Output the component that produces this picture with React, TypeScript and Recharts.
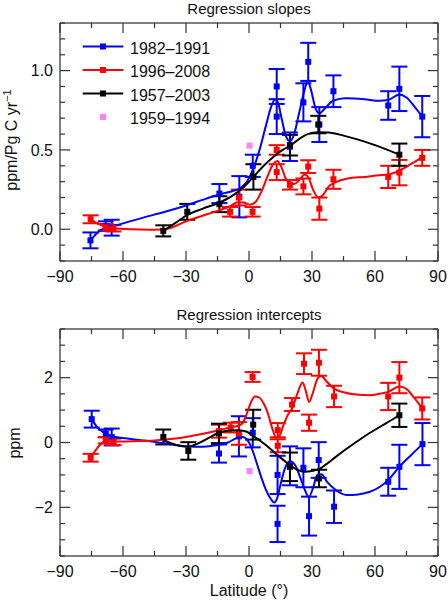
import { ComposedChart, Scatter, ErrorBar, XAxis, YAxis, Legend, Label } from 'recharts'

const FONT = '"Liberation Sans", Arial, Helvetica, sans-serif'
const BLUE = '#0000ff'
const RED = '#ff0000'
const BLACK = '#000000'
const PINK = '#ff80ff'
const FRAME = '#555555'
const TICK = '#333333'

// axes
const latTicks = [-90, -75, -60, -45, -30, -15, 0, 15, 30, 45, 60, 75, 90]
const latLabels = [-90, -60, -30, 0, 30, 60, 90]
const slopeTicks = [-0.2, -0.1, 0, 0.1, 0.2, 0.3, 0.4, 0.5, 0.6, 0.7, 0.8, 0.9, 1, 1.1, 1.2, 1.3]
const slopeLabels = [0, 0.5, 1]
const interceptTicks = [-3.5, -3, -2.5, -2, -1.5, -1, -0.5, 0, 0.5, 1, 1.5, 2, 2.5, 3, 3.5]
const interceptLabels = [-2, 0, 2]

// points: [latitude, value, error]
const slopeBlue = [
  [-75.5, -0.07, 0.05], [-68.2, 0.02, 0.03], [-65.4, 0.01, 0.05], [-14.1, 0.225, 0.06],
  [-4.6, 0.205, 0.13], [1.8, 0.4, 0.07], [13.2, 0.9, 0.11], [13.2, 0.71, 0.11],
  [19.5, 0.52, 0.09], [25.9, 0.8, 0.12], [28.2, 1.055, 0.12], [33.5, 0.66, 0.11],
  [40.2, 0.87, 0.1], [66.3, 0.78, 0.09], [71.6, 0.885, 0.14], [82.5, 0.71, 0.13],
]
const slopeRed = [
  [-75.4, 0.063, 0.025], [-68.2, 0.013, 0.02], [-64.6, 0.006, 0.02], [-9.0, 0.11, 0.03],
  [-4.8, 0.2, 0.05], [1.7, 0.11, 0.03], [13.2, 0.5, 0.03], [13.2, 0.36, 0.05],
  [19.5, 0.28, 0.03], [25.9, 0.27, 0.05], [28.2, 0.395, 0.04], [33.5, 0.13, 0.07],
  [40.2, 0.315, 0.06], [66.3, 0.33, 0.07], [71.6, 0.357, 0.08], [82.5, 0.45, 0.05],
]
const slopeBlack = [
  [-40.8, -0.01, 0.035], [-29.4, 0.11, 0.05], [-14.1, 0.158, 0.05], [2.1, 0.33, 0.08],
  [19.5, 0.53, 0.065], [33.0, 0.66, 0.055], [71.6, 0.47, 0.07],
]
const slopePink = [[0.3, 0.527, 0]]

const interceptBlue = [
  [-74.9, 0.72, 0.26], [-68.2, 0.28, 0.12], [-65.4, 0.17, 0.26], [-14.3, -0.34, 0.28],
  [-4.8, 0.19, 0.62], [1.8, 0.3, 0.45], [13.6, -1.0, 0.59], [13.6, -2.51, 0.56],
  [19.5, -0.72, 0.6], [25.9, -0.78, 0.6], [28.6, -2.27, 0.6], [33.2, -0.54, 0.55],
  [40.5, -1.98, 0.5], [66.3, -1.21, 0.43], [71.6, -0.75, 0.68], [82.6, -0.05, 0.65],
]
const interceptRed = [
  [-75.4, -0.47, 0.12], [-68.2, 0.07, 0.1], [-64.6, 0.02, 0.1], [-14.3, 0.35, 0.2],
  [-8.7, 0.46, 0.15], [-4.8, 0.28, 0.35], [1.7, 2.02, 0.15], [13.7, 0.38, 0.22],
  [13.7, -0.1, 0.2], [20.5, 1.17, 0.2], [26.2, 2.43, 0.32], [28.6, 0.61, 0.25],
  [33.3, 2.46, 0.4], [40.5, 1.42, 0.33], [66.3, 1.42, 0.42], [71.6, 2.0, 0.48],
  [82.5, 1.05, 0.34],
]
const interceptBlack = [
  [-40.8, 0.17, 0.23], [-28.9, -0.26, 0.27], [-14.3, 0.28, 0.3], [2.0, 0.55, 0.46],
  [19.5, -0.75, 0.44], [33.3, -1.11, 0.27], [71.6, 0.84, 0.36],
]
const interceptPink = [[0.3, -0.88, 0]]

// smoothed fits: [latitude, value]
const slopeBlueFit = [
  [-75.5, -0.07], [-72, -0.02], [-68.2, 0.01], [-65, 0.02], [-50, 0.075], [-40, 0.11], [-30, 0.15],
  [-20, 0.195], [-14, 0.22], [-8, 0.24], [-4, 0.26], [-1, 0.3], [2, 0.38], [5, 0.5], [8, 0.65],
  [10.5, 0.77], [12.5, 0.82], [14, 0.79], [15.5, 0.7], [17.5, 0.59], [19.5, 0.555], [21.5, 0.6],
  [24, 0.74], [26.5, 0.88], [28, 0.935], [29.5, 0.88], [31.5, 0.77], [33.5, 0.73], [36, 0.76],
  [40, 0.81], [46, 0.826], [55, 0.82], [62, 0.81], [66.3, 0.815], [71.6, 0.85], [75, 0.83],
  [79, 0.77], [82.5, 0.71],
]
const slopeRedFit = [
  [-75.4, 0.063], [-72, 0.035], [-68.2, 0.015], [-64.6, 0.006], [-55, 0.0], [-45, -0.003], [-40, 0.0],
  [-30, 0.05], [-20, 0.095], [-14, 0.12], [-9, 0.145], [-5.5, 0.17], [-2.5, 0.168], [0.5, 0.155],
  [3, 0.17], [6, 0.24], [9, 0.34], [11.5, 0.41], [13.5, 0.43], [15.5, 0.39], [17.5, 0.32],
  [19.5, 0.29], [21.5, 0.285], [24, 0.31], [26.5, 0.345], [28.5, 0.32], [30.5, 0.25], [33, 0.2],
  [35.5, 0.22], [38, 0.27], [41, 0.295], [47, 0.32], [55, 0.33], [62, 0.34], [66.3, 0.345],
  [71.6, 0.37], [77, 0.41], [82.5, 0.455],
]
const slopeBlackFit = [
  [-40.8, -0.01], [-35, 0.04], [-29.4, 0.09], [-22, 0.13], [-14.1, 0.168], [-8, 0.21], [-3, 0.26],
  [2.1, 0.33], [7, 0.4], [12, 0.46], [16, 0.5], [19.5, 0.525], [24, 0.57], [28, 0.6], [33, 0.612],
  [38, 0.61], [45, 0.59], [52, 0.565], [60, 0.53], [66, 0.5], [71.6, 0.47],
]

const interceptBlueFit = [
  [-74.9, 0.72], [-72, 0.45], [-69, 0.3], [-66, 0.2], [-58, 0.12], [-50, 0.06], [-40, -0.03],
  [-30, -0.12], [-22, -0.13], [-15, -0.08], [-10, 0.0], [-6.5, 0.12], [-4, 0.18], [-2, 0.15],
  [0, 0.0], [2, -0.3], [4, -0.7], [6, -1.1], [8, -1.45], [10.5, -1.75], [12, -1.85], [13.5, -1.7],
  [15, -1.3], [17, -0.82], [19.5, -0.58], [22, -0.7], [24.5, -1.1], [26.5, -1.45], [28.5, -1.68],
  [30.5, -1.4], [32.5, -1.0], [34.5, -0.98], [37, -1.2], [41, -1.45], [46.5, -1.62], [52, -1.6],
  [57.6, -1.52], [62, -1.38], [66.3, -1.16], [71.6, -0.75], [77, -0.4], [82.6, -0.05],
]
const interceptRedFit = [
  [-75.4, -0.47], [-72, -0.15], [-68.2, 0.05], [-64.6, 0.03], [-55, 0.04], [-45, 0.06], [-35, 0.12],
  [-25, 0.23], [-14.3, 0.38], [-8.7, 0.47], [-5, 0.52], [-3, 0.6], [-1, 0.9], [1, 1.25], [2.8, 1.42],
  [5, 1.38], [7, 1.2], [9, 0.9], [11, 0.45], [13, 0.15], [14.5, 0.2], [16.5, 0.55], [18.5, 0.85],
  [20.5, 1.05], [23, 1.5], [25.5, 1.85], [27, 1.6], [28.6, 1.25], [30.5, 1.55], [32.5, 1.95],
  [34.3, 2.05], [37, 1.88], [40.5, 1.66], [45, 1.55], [51, 1.48], [57.6, 1.46], [62, 1.5],
  [66.3, 1.56], [71.6, 1.73], [75, 1.65], [79, 1.35], [82.5, 1.05],
]
const interceptBlackFit = [
  [-40.8, 0.07], [-35, -0.07], [-29, -0.13], [-24, -0.02], [-19, 0.15], [-14.3, 0.3], [-9, 0.37],
  [-4.8, 0.38], [-1, 0.33], [2, 0.2], [5, 0.07], [8, -0.08], [12, -0.3], [16, -0.52], [19.5, -0.7],
  [23, -0.84], [26.5, -0.9], [30, -0.88], [33.3, -0.82], [37, -0.66], [41, -0.46], [47, -0.17],
  [53, 0.1], [57.6, 0.3], [65, 0.58], [71.6, 0.84],
]

const legendRows = [
  { name: '1982–1991', color: BLUE, line: true },
  { name: '1996–2008', color: RED, line: true },
  { name: '1957–2003', color: BLACK, line: true },
  { name: '1959–1994', color: PINK, line: false },
]

const toPts = (rows: number[][]) => rows.map(([lat, v, e]) => ({ lat, v, e: e ?? 0 }))
const fmt = (v: number, d: number) => (v < 0 ? '\u2212' : '') + Math.abs(v).toFixed(d)
const isIn = (list: number[], v: number) => list.some(l => Math.abs(l - v) < 1e-6)

const squareShape = (color: string) => (p: any) =>
  <rect x={p.cx - 3} y={p.cy - 3} width={6} height={6} fill={color} />
const noShape = () => <g />

function XTick({ x, y, payload, labels, top }: any) {
  const major = isIn(labels, payload.value)
  const len = major ? 10 : 5
  return (
    <g>
      <line x1={x} x2={x} y1={y} y2={top ? y + len : y - len} stroke={TICK} strokeWidth={1.2} />
      {!top && major && (
        <text x={x} y={y + 21} textAnchor="middle" fontSize={16} fontFamily={FONT} fill="#111">
          {fmt(payload.value, 0)}
        </text>
      )}
    </g>
  )
}

function YTick({ x, y, payload, labels, right, digits }: any) {
  const major = isIn(labels, payload.value)
  const len = major ? 10 : 5
  return (
    <g>
      <line x1={x} x2={right ? x - len : x + len} y1={y} y2={y} stroke={TICK} strokeWidth={1.2} />
      {!right && major && (
        <text x={x - 7} y={y + 5.7} textAnchor="end" fontSize={16} fontFamily={FONT} fill="#111">
          {fmt(payload.value, digits)}
        </text>
      )}
    </g>
  )
}

function SlopeLegend() {
  return (
    <svg width={170} height={100} style={{ display: 'block' }}>
      {legendRows.map((r, i) => {
        const y = 11.5 + i * 23.5
        return (
          <g key={r.name}>
            {r.line && <line x1={2.7} x2={43.3} y1={y} y2={y} stroke={r.color} strokeWidth={2} />}
            <rect x={20} y={y - 3} width={6} height={6} fill={r.color} />
            <text x={50} y={y + 7} fontSize={16} fontFamily={FONT} fill="#111">{r.name}</text>
          </g>
        )
      })}
    </svg>
  )
}

// fitted curve + points with error bars; mirror=true puts it on the top/right axes
function Series({ pts, fit, color, mirror }: any) {
  const ids = mirror ? { xAxisId: 'top', yAxisId: 'right' } : {}
  return [
    fit && (
      <Scatter key="fit" {...ids} data={toPts(fit)} dataKey="v" fill={color} shape={noShape}
        line={{ stroke: color, strokeWidth: 2 }} lineJointType="monotoneX" isAnimationActive={false} />
    ),
    <Scatter key="pts" {...ids} data={toPts(pts)} dataKey="v" fill={color} shape={squareShape(color)} isAnimationActive={false}>
      {pts[0][2] > 0 && <ErrorBar dataKey="e" direction="y" width={8} stroke={color} strokeWidth={2} />}
    </Scatter>,
  ]
}

function Panel({ height, margin, xAxisHeight, yDomain, yTicks, yLabels, digits, yTitle, children }: any) {
  const frame = { stroke: FRAME, strokeWidth: 1.5 }
  return (
    <ComposedChart width={448} height={height} margin={margin}>
      <XAxis dataKey="lat" type="number" domain={[-90, 90]} ticks={latTicks} allowDataOverflow interval={0}
        height={xAxisHeight} tickSize={0} tickMargin={0} tickLine={false} axisLine={frame}
        tick={(p: any) => <XTick {...p} labels={latLabels} />} />
      <XAxis xAxisId="top" orientation="top" dataKey="lat" type="number" domain={[-90, 90]} ticks={latTicks}
        allowDataOverflow interval={0} height={1} tickSize={0} tickMargin={0} tickLine={false} axisLine={frame}
        tick={(p: any) => <XTick {...p} labels={latLabels} top />} />
      <YAxis dataKey="v" type="number" domain={yDomain} ticks={yTicks} allowDataOverflow interval={0} width={60}
        tickSize={0} tickMargin={0} tickLine={false} axisLine={frame}
        tick={(p: any) => <YTick {...p} labels={yLabels} digits={digits} />}>
        <Label content={yTitle} />
      </YAxis>
      <YAxis yAxisId="right" orientation="right" dataKey="v" type="number" domain={yDomain} ticks={yTicks}
        allowDataOverflow interval={0} width={1} tickSize={0} tickMargin={0} tickLine={false} axisLine={frame}
        tick={(p: any) => <YTick {...p} labels={yLabels} right />} />
      {children}
    </ComposedChart>
  )
}

const titleStyle: any = {
  position: 'absolute', left: 60, width: 378, textAlign: 'center',
  fontSize: 15, lineHeight: '17px', fontFamily: FONT, color: '#111',
}

export default function App() {
  return (
    <div style={{ position: 'absolute', left: 0, top: 0, width: 448, height: 604, background: '#fff' }}>
      <div style={{ position: 'absolute', left: 0, top: 0 }}>
        <Panel height={290} margin={{ top: 22, right: 9, bottom: 4, left: 0 }} xAxisHeight={25}
          yDomain={[-0.2, 1.3]} yTicks={slopeTicks} yLabels={slopeLabels} digits={1}
          yTitle={() => (
            <text transform="translate(17, 140) rotate(-90)" textAnchor="middle" fontSize={16} fontFamily={FONT} fill="#111">
              ppm/Pg C yr<tspan dy={-6} fontSize={11}>−1</tspan>
            </text>
          )}>
          {Series({ pts: slopeBlue, fit: slopeBlueFit, color: BLUE })}
          {Series({ pts: slopeRed, fit: slopeRedFit, color: RED })}
          {Series({ pts: slopeBlack, fit: slopeBlackFit, color: BLACK })}
          {Series({ pts: slopePink, fit: null, color: PINK, mirror: true })}
          <Legend layout="vertical" align="center" verticalAlign="middle" content={() => <SlopeLegend />}
            wrapperStyle={{ left: 80, top: 35, width: 170, height: 100 }} />
        </Panel>
      </div>
      <div style={titleStyle}>Regression slopes</div>
      <div style={{ position: 'absolute', left: 0, top: 290 }}>
        <Panel height={314} margin={{ top: 38, right: 9, bottom: 4, left: 0 }} xAxisHeight={44}
          yDomain={[-3.5, 3.5]} yTicks={interceptTicks} yLabels={interceptLabels} digits={0}
          yTitle={() => (
            <text transform="translate(20, 153) rotate(-90)" textAnchor="middle" fontSize={16} fontFamily={FONT} fill="#111">
              ppm
            </text>
          )}>
          {Series({ pts: interceptBlue, fit: interceptBlueFit, color: BLUE })}
          {Series({ pts: interceptRed, fit: interceptRedFit, color: RED })}
          {Series({ pts: interceptBlack, fit: interceptBlackFit, color: BLACK })}
          {Series({ pts: interceptPink, fit: null, color: PINK, mirror: true })}
        </Panel>
      </div>
      <div style={{ ...titleStyle, top: 306 }}>Regression intercepts</div>
      <div style={{ ...titleStyle, top: 582, fontSize: 16, lineHeight: '18px' }}>Latitude (°)</div>
    </div>
  )
}
